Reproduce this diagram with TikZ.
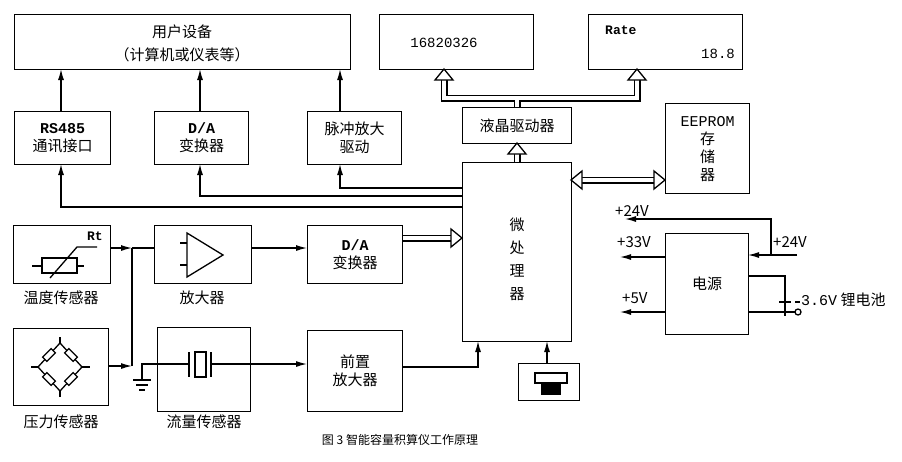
\documentclass[tikz,border=0pt]{standalone}
\usepackage{fontspec}
\setmainfont{Noto Sans CJK SC}
\newfontfamily\mono{Liberation Mono}
\usetikzlibrary{arrows.meta}
\begin{document}
\begin{tikzpicture}[x=1pt,y=-1pt,
  box/.style={draw,line width=1.3pt,fill=white},
  txt/.style={font=\fontsize{15}{18}\selectfont,align=center,inner sep=0pt},
  ar/.style={line width=1.3pt,-{Latex[length=11pt,width=6pt]}},
  ln/.style={line width=1.3pt},
  hol/.style={line width=4pt,white,preaction={draw,black,line width=7pt}},
  head/.style={draw,line width=1.3pt,fill=white,line join=miter}]
\useasboundingbox (0,0) rectangle (902,461);
% top boxes
\node[box,minimum width=336,minimum height=55,anchor=north west] (user) at (14,14) {};
\node[txt] at (182,32) {用户设备};
\node[txt] at (182,55) {（计算机或仪表等）};
\node[box,minimum width=96,minimum height=53,anchor=north west,txt] (rs) at (14,111) {{\mono\bfseries RS485}\\通讯接口};
\node[box,minimum width=94,minimum height=53,anchor=north west,txt] (da1) at (154,111) {{\mono\bfseries D/A}\\变换器};
\node[box,minimum width=94,minimum height=53,anchor=north west,txt] (pulse) at (307,111) {脉冲放大\\驱动};
\draw[ar] (61,111) -- (61,69);
\draw[ar] (200,111) -- (200,69);
\draw[ar] (340,111) -- (340,69);
% displays
\node[box,minimum width=154,minimum height=55,anchor=north west] (d1) at (379,14) {};
\node[txt,font=\mono\fontsize{14}{16}\selectfont] at (444,43) {16820326};
\node[box,minimum width=154,minimum height=55,anchor=north west] (d2) at (588,14) {};
\node[txt,font=\mono\bfseries\fontsize{13}{15}\selectfont,anchor=west] at (605,30) {Rate};
\node[txt,font=\mono\fontsize{14}{16}\selectfont,anchor=east] at (735,54) {18.8};
\node[box,minimum width=109,minimum height=36,anchor=north west,txt] (lcd) at (462,107) {液晶驱动器};
\node[box,minimum width=109,minimum height=179,anchor=north west] (mcu) at (462,162) {};
\node[txt] at (517,259) {微\\[5pt]处\\[5pt]理\\[5pt]器};
\node[box,minimum width=84,minimum height=90,anchor=north west,txt] (ee) at (665,103) {{\mono EEPROM}\\存\\储\\器};
% hollow arrows
\draw[hol] (517,107) -- (517,98) (444,80) -- (444,98) -- (637,98) -- (637,80);
\draw[head] (435,80) -- (444,69) -- (453,80) -- cycle;
\draw[head] (628,80) -- (637,69) -- (646,80) -- cycle;
\draw[hol] (517,162) -- (517,154);
\draw[head] (508,154) -- (517,143) -- (526,154) -- cycle;
\draw[hol] (582,180) -- (654,180);
\draw[head] (582,171) -- (571,180) -- (582,189) -- cycle;
\draw[head] (654,171) -- (665,180) -- (654,189) -- cycle;
\draw[hol] (402,238) -- (451,238);
\draw[head] (451,229) -- (462,238) -- (451,247) -- cycle;
% MCU to outputs
\draw[ar] (462,207) -- (61,207) -- (61,164);
\draw[ar] (462,196) -- (200,196) -- (200,164);
\draw[ar] (462,188) -- (340,188) -- (340,164);
% sensors
\node[box,minimum width=97,minimum height=58,anchor=north west] (temp) at (13,225) {};
\draw[ln] (32,266) -- (42,266) (77,266) -- (84,266);
\draw[ln] (42,258) rectangle (77,273);
\draw[ln] (50,278) -- (77,247) -- (97,247);
\node[txt,font=\mono\bfseries\fontsize{13}{15}\selectfont] at (95,236) {Rt};
\node[txt] at (61,298) {温度传感器};
\node[box,minimum width=97,minimum height=58,anchor=north west] (amp) at (154,225) {};
\draw[ln,line join=miter] (187,233) -- (187,277) -- (223,255) -- cycle;
\draw[ln] (180,243) -- (187,243) (180,265) -- (187,265);
\node[txt] at (202,298) {放大器};
\node[box,minimum width=95,minimum height=58,anchor=north west,txt] (da2) at (307,225) {{\mono\bfseries D/A}\\变换器};
\draw[ar] (110,248) -- (132,248);
\draw[ln] (132,248) -- (154,248);
\draw[ar] (251,248) -- (307,248);
\draw[ln] (132,248) -- (132,366);
\node[box,minimum width=95,minimum height=77,anchor=north west] (pres) at (13,328) {};
\draw[ar] (108,366) -- (132,366);
% bridge
\draw[ln] (60,343) -- (82,367) -- (60,391) -- (38,367) -- cycle;
\draw[ln] (60,343) -- (60,337) (60,391) -- (60,397) (38,367) -- (31,367) (82,367) -- (90,367);
\foreach \a/\p in {45/{(49,355)},-45/{(71,355)},-45/{(49,379)},45/{(71,379)}}
  \draw[ln,fill=white,rotate around={\a:\p}] \p ++(-6,-3) rectangle ++(12,6);
\node[txt] at (61,422) {压力传感器};
\node[box,minimum width=93,minimum height=84,anchor=north west] (flow) at (157,327) {};
\draw[ln] (142,380) -- (142,364) -- (189,364) (211,364) -- (250,364);
\draw[ln] (133,380) -- (151,380) (136,385) -- (148,385) (139,390) -- (145,390);
\draw[ln] (189,352) -- (189,377) (211,352) -- (211,377);
\draw[ln] (195,352) rectangle (206,377);
\draw[ar] (250,364) -- (307,364);
\node[txt] at (204,422) {流量传感器};
\node[box,minimum width=95,minimum height=81,anchor=north west,txt] (pre) at (307,330) {前置\\放大器};
\draw[ar] (402,367) -- (478,367) -- (478,341);
% keypad
\node[box,minimum width=61,minimum height=37,anchor=north west] (key) at (518,363) {};
\draw[ln,fill=white] (535,373) rectangle (567,383);
\fill (541,383) rectangle (561,395);
\draw[ar] (547,363) -- (547,341);
% power
\node[box,minimum width=83,minimum height=101,anchor=north west,txt] (pwr) at (665,233) {电源};
\node[txt,anchor=west] at (615,211) {+24V};
\draw[ar] (771,255) -- (771,219) -- (625,219);
\draw[ar] (797,255) -- (748,255);
\node[txt,anchor=west] at (773,242) {+24V};
\draw[ar] (665,257) -- (620,257);
\node[txt,anchor=west] at (617,242) {+33V};
\draw[ar] (665,312) -- (620,312);
\node[txt,anchor=west] at (622,298) {+5V};
\draw[ln] (748,276) -- (785,276) -- (785,316);
\draw[ln] (748,312) -- (795,312);
\draw[ln,fill=white] (798,312) circle (3);
\draw[ln] (779,302) -- (791,302) (795,302) -- (800,302);
\node[txt,anchor=west] at (801,300) {{\mono 3.6V} 锂电池};
\node[txt,font=\fontsize{12}{14}\selectfont] at (400,440) {图 3 智能容量积算仪工作原理};
\end{tikzpicture}
\end{document}
